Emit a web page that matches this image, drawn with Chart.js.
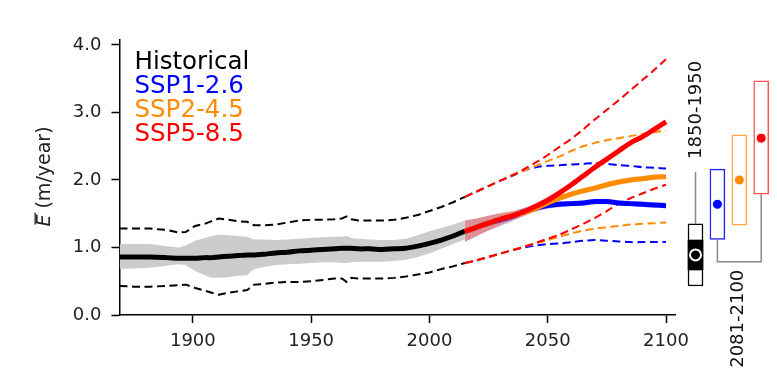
<!DOCTYPE html>
<html>
<head>
<meta charset="utf-8">
<script src="https://cdn.jsdelivr.net/npm/chart.js@4/dist/chart.umd.min.js"></script>
<style>
  html, body { margin: 0; padding: 0; background: #fff; }
  #wrap { position: relative; width: 777px; height: 371px; overflow: hidden; }
  #main { position: absolute; left: 0; top: 0; }
  #box { position: absolute; left: 680px; top: 0; }
</style>
</head>
<body>
<div id="wrap">
  <canvas id="main" width="777" height="371"></canvas>
  <canvas id="box" width="97" height="371"></canvas>
</div>
<script>
// ---- historical ensemble (m/year) ----
const histYears = [1869, 1875, 1882, 1889, 1894, 1897, 1901, 1905, 1908, 1911, 1915, 1919, 1923, 1925, 1926, 1930, 1935,
                   1940, 1945, 1950, 1955, 1960, 1963, 1965, 1967, 1970, 1975, 1980, 1985, 1990, 1995, 2000, 2005, 2010, 2015];
const histMean  = [0.86, 0.86, 0.86, 0.85, 0.84, 0.84, 0.84, 0.85, 0.85, 0.86, 0.87, 0.88, 0.89, 0.89, 0.89, 0.90, 0.92,
                   0.93, 0.95, 0.96, 0.97, 0.98, 0.99, 0.99, 0.99, 0.98, 0.98, 0.97, 0.98, 0.99, 1.02, 1.06, 1.11, 1.17, 1.24];
const histSdHi  = [1.05, 1.05, 1.05, 1.02, 1.00, 1.03, 1.10, 1.14, 1.17, 1.19, 1.18, 1.17, 1.16, 1.13, 1.12, 1.12, 1.11,
                   1.12, 1.13, 1.14, 1.15, 1.16, 1.16, 1.17, 1.14, 1.13, 1.12, 1.11, 1.11, 1.13, 1.18, 1.24, 1.29, 1.34, 1.40];
const histSdLo  = [0.68, 0.69, 0.70, 0.73, 0.75, 0.74, 0.65, 0.59, 0.55, 0.55, 0.56, 0.58, 0.59, 0.66, 0.68, 0.71, 0.74,
                   0.75, 0.76, 0.77, 0.78, 0.78, 0.77, 0.77, 0.78, 0.79, 0.79, 0.79, 0.80, 0.82, 0.86, 0.91, 0.98, 1.05, 1.12];
const histMax   = [1.28, 1.28, 1.28, 1.26, 1.22, 1.23, 1.32, 1.35, 1.39, 1.43, 1.41, 1.39, 1.38, 1.34, 1.33, 1.33, 1.34,
                   1.37, 1.40, 1.41, 1.41, 1.42, 1.43, 1.46, 1.42, 1.40, 1.40, 1.40, 1.41, 1.44, 1.48, 1.54, 1.60, 1.67, 1.75];
const histMin   = [0.43, 0.42, 0.42, 0.43, 0.44, 0.45, 0.40, 0.36, 0.33, 0.30, 0.33, 0.35, 0.37, 0.43, 0.45, 0.46, 0.48,
                   0.49, 0.49, 0.50, 0.52, 0.54, 0.54, 0.49, 0.55, 0.54, 0.54, 0.54, 0.55, 0.57, 0.60, 0.63, 0.68, 0.72, 0.77];

// ---- scenario projections (m/year) ----
const futYears   = [2015, 2020, 2025, 2030, 2035, 2040, 2045, 2050, 2055, 2060, 2065, 2070, 2075, 2080, 2085, 2090, 2095, 2100];
const ssp126Mean = [1.24, 1.30, 1.36, 1.41, 1.46, 1.53, 1.58, 1.62, 1.64, 1.65, 1.66, 1.68, 1.68, 1.66, 1.65, 1.64, 1.63, 1.62];
const ssp245Mean = [1.24, 1.30, 1.36, 1.42, 1.47, 1.52, 1.58, 1.66, 1.73, 1.79, 1.84, 1.88, 1.93, 1.97, 2.00, 2.02, 2.04, 2.05];
const ssp585Mean = [1.24, 1.30, 1.36, 1.42, 1.47, 1.53, 1.61, 1.70, 1.81, 1.93, 2.06, 2.19, 2.31, 2.43, 2.55, 2.64, 2.75, 2.86];
const sspSpread  = [0.16, 0.13, 0.11, 0.09, 0.07, 0.06, 0.05, 0.05, 0.045, 0.04, 0.04, 0.04, 0.04, 0.04, 0.04, 0.04, 0.04, 0.04];
const ssp126Max  = [1.75, 1.83, 1.91, 1.99, 2.06, 2.14, 2.19, 2.21, 2.22, 2.23, 2.24, 2.25, 2.24, 2.22, 2.21, 2.19, 2.18, 2.17];
const ssp126Min  = [0.77, 0.81, 0.86, 0.91, 0.96, 1.00, 1.03, 1.05, 1.06, 1.08, 1.10, 1.11, 1.10, 1.09, 1.08, 1.08, 1.08, 1.08];
const ssp245Max  = [1.75, 1.83, 1.91, 1.99, 2.07, 2.14, 2.21, 2.28, 2.35, 2.43, 2.50, 2.55, 2.59, 2.62, 2.65, 2.68, 2.71, 2.73];
const ssp245Min  = [0.77, 0.81, 0.86, 0.91, 0.96, 1.01, 1.06, 1.11, 1.16, 1.21, 1.25, 1.28, 1.30, 1.32, 1.34, 1.35, 1.36, 1.37];
const ssp585Max  = [1.75, 1.83, 1.91, 1.99, 2.07, 2.16, 2.26, 2.37, 2.49, 2.61, 2.75, 2.90, 3.04, 3.18, 3.33, 3.48, 3.63, 3.79];
const ssp585Min  = [0.77, 0.81, 0.86, 0.91, 0.96, 1.01, 1.07, 1.13, 1.19, 1.27, 1.35, 1.44, 1.54, 1.65, 1.73, 1.80, 1.87, 1.93];

// ---- period summaries (side panel) ----
const periodLabels = ['1850-1950', '2081-2100'];
const boxNames  = ['Historical', 'SSP1-2.6', 'SSP2-4.5', 'SSP5-8.5'];
const boxLow    = [0.43, 1.12, 1.33, 1.79];
const boxHigh   = [1.35, 2.16, 2.67, 3.47];
const boxMid    = [0.89, 1.64, 2.00, 2.62];
const histInner = [0.667, 1.111];
const histWhiskerTop = 2.12;
const futureLink = 0.79;

// ---- axes ----
const xTicks = [1900, 1950, 2000, 2050, 2100];
const yTicks = [0, 1, 2, 3, 4];

const FONT = '"DejaVu Sans"';
const colHist = '#000000', col126 = '#0000ff', col245 = '#ff8c00', col585 = '#ff0000';
const legendColors = [colHist, col126, col245, col585];

const pts = (xs, ys) => xs.map((x, i) => ({ x: x, y: ys[i] }));

const datasets = [];
function addLine(xs, ys, color, width, dash, order, tension) {
  datasets.push({
    data: pts(xs, ys), borderColor: color, backgroundColor: color, borderWidth: width,
    borderDash: dash || [], pointRadius: 0, fill: false, order: order,
    tension: tension || 0, borderCapStyle: 'butt', borderJoinStyle: 'round'
  });
}
function addBand(xs, lo, hi, color, order, tension) {
  datasets.push({ data: pts(xs, lo), borderWidth: 0, borderColor: 'rgba(0,0,0,0)', backgroundColor: color,
                  pointRadius: 0, fill: false, order: order, tension: tension || 0 });
  datasets.push({ data: pts(xs, hi), borderWidth: 0, borderColor: 'rgba(0,0,0,0)', backgroundColor: color,
                  pointRadius: 0, fill: '-1', order: order, tension: tension || 0 });
}
const minus = (a, s) => a.map((v, i) => v - s[i]);
const plus  = (a, s) => a.map((v, i) => v + s[i]);

// shaded spreads
addBand(histYears, histSdLo, histSdHi, 'rgb(204,204,204)', 100, 0);
addBand(futYears, minus(ssp126Mean, sspSpread), plus(ssp126Mean, sspSpread), 'rgba(40,40,255,0.25)', 92, 0.3);
addBand(futYears, minus(ssp245Mean, sspSpread), plus(ssp245Mean, sspSpread), 'rgba(255,140,0,0.25)', 91, 0.3);
addBand(futYears, minus(ssp585Mean, sspSpread), plus(ssp585Mean, sspSpread), 'rgba(255,0,0,0.22)', 90, 0.3);
// ensemble ranges (dashed)
const dash = [8, 4.5];
addLine(histYears, histMax, colHist, 2, dash, 80, 0);
addLine(histYears, histMin, colHist, 2, dash, 80, 0);
addLine(futYears, ssp126Max, col126, 2, dash, 72, 0.3);
addLine(futYears, ssp126Min, col126, 2, dash, 72, 0.3);
addLine(futYears, ssp245Max, col245, 2, dash, 71, 0.3);
addLine(futYears, ssp245Min, col245, 2, dash, 71, 0.3);
addLine(futYears, ssp585Max, col585, 2, dash, 70, 0.3);
addLine(futYears, ssp585Min, col585, 2, dash, 70, 0.3);
// ensemble means
addLine(histYears, histMean, colHist, 5, null, 60, 0.3);
addLine(futYears, ssp126Mean, col126, 5, null, 52, 0.3);
addLine(futYears, ssp245Mean, col245, 5, null, 51, 0.3);
addLine(futYears, ssp585Mean, col585, 5, null, 50, 0.3);

const textLegend = {
  id: 'textLegend',
  afterDraw(chart) {
    const { ctx, chartArea: a } = chart;
    ctx.save();
    ctx.font = '24.5px ' + FONT;
    ctx.textBaseline = 'middle';
    ctx.textAlign = 'left';
    boxNames.forEach((t, i) => {
      ctx.fillStyle = legendColors[i];
      ctx.fillText(t, a.left + 15, a.top + 23 + i * 24);
    });
    ctx.restore();
  }
};

const yTitle = {
  id: 'yTitle',
  afterDraw(chart) {
    const { ctx, chartArea: a } = chart;
    const f1 = 'italic 19px ' + FONT, f2 = '19px ' + FONT;
    ctx.save();
    ctx.translate(45, (a.top + a.bottom) / 2 - 1);
    ctx.rotate(-Math.PI / 2);
    ctx.fillStyle = '#222';
    ctx.textBaseline = 'middle';
    ctx.textAlign = 'left';
    ctx.font = f1; const wE = ctx.measureText('E').width;
    ctx.font = f2; const wR = ctx.measureText(' (m/year)').width;
    const x0 = -(wE + wR) / 2;
    ctx.font = f1; ctx.fillText('E', x0, 0);
    ctx.font = f2; ctx.fillText(' (m/year)', x0 + wE, 0);
    ctx.fillRect(x0 + 2, -10.5, wE, 1.3);
    ctx.restore();
  }
};

new Chart(document.getElementById('main'), {
  type: 'line',
  data: { datasets: datasets },
  options: {
    responsive: false,
    animation: false,
    layout: { autoPadding: false, padding: { left: 0, right: 102, top: 40, bottom: 0 } },
    plugins: { legend: { display: false }, tooltip: { enabled: false }, colors: { enabled: false } },
    scales: {
      x: {
        type: 'linear', min: 1869, max: 2103.8,
        afterFit(s) { s.height = 56; },
        afterBuildTicks(s) { s.ticks = xTicks.map(v => ({ value: v })); },
        grid: { display: true, drawOnChartArea: false, drawTicks: true, tickLength: 8, tickWidth: 1.5, tickColor: '#000' },
        border: { display: true, color: '#000', width: 1.5 },
        ticks: { font: { family: 'DejaVu Sans', size: 18 }, color: '#222', padding: 8, maxRotation: 0,
                 callback: v => String(v) }
      },
      y: {
        type: 'linear', min: 0, max: 4.074,
        afterFit(s) { s.width = 119.5; },
        afterBuildTicks(s) { s.ticks = yTicks.map(v => ({ value: v })); },
        grid: { display: true, drawOnChartArea: false, drawTicks: true, tickLength: 8, tickWidth: 1.5, tickColor: '#000' },
        border: { display: true, color: '#000', width: 1.5 },
        ticks: { font: { family: 'DejaVu Sans', size: 18 }, color: '#222', padding: 10,
                 callback: v => Number(v).toFixed(1) }
      }
    }
  },
  plugins: [textLegend, yTitle]
});

// ---- side panel: period summaries on the same value scale ----
const boxPos = [0, 1, 2, 3];
const boxEdge = ['#000000', '#2020ff', 'rgba(255,140,0,0.75)', 'rgba(255,0,0,0.68)'];
const grey = '#8a8a8a';

const periodText = {
  id: 'periodText',
  afterDraw(chart) {
    const { ctx } = chart;
    const xs = chart.scales.x, ys = chart.scales.y;
    ctx.save();
    ctx.font = '18px ' + FONT;
    ctx.fillStyle = '#111';
    ctx.textBaseline = 'middle';
    ctx.save();
    ctx.translate(xs.getPixelForValue(boxPos[0]) + 1, ys.getPixelForValue(histWhiskerTop) - 13);
    ctx.rotate(-Math.PI / 2);
    ctx.textAlign = 'left';
    ctx.fillText(periodLabels[0], 0, 0);
    ctx.restore();
    ctx.save();
    ctx.translate((xs.getPixelForValue(boxPos[1]) + xs.getPixelForValue(boxPos[3])) / 2 - 1,
                  ys.getPixelForValue(futureLink) + 8);
    ctx.rotate(-Math.PI / 2);
    ctx.textAlign = 'right';
    ctx.fillText(periodLabels[1], 0, 0);
    ctx.restore();
    ctx.restore();
  }
};

new Chart(document.getElementById('box'), {
  type: 'bar',
  data: {
    datasets: [
      { type: 'line', data: pts(boxPos, boxMid), showLine: false, pointRadius: [5.5, 5, 5, 5],
        pointBackgroundColor: legendColors, pointBorderColor: '#fff', pointBorderWidth: [2, 1, 1, 1],
        borderColor: '#fff', backgroundColor: legendColors, order: 0 },
      { type: 'bar', data: [{ x: boxPos[0], y: histInner }], backgroundColor: '#000', borderColor: '#000',
        borderWidth: 0, barThickness: 15, grouped: false, order: 1 },
      { type: 'bar', data: boxPos.map((x, i) => ({ x: x, y: [boxLow[i], boxHigh[i]] })),
        backgroundColor: '#fff', borderColor: boxEdge, borderWidth: 1.5, borderSkipped: false,
        barThickness: 15, grouped: false, order: 2 },
      { type: 'line', data: [{ x: boxPos[0], y: boxHigh[0] }, { x: boxPos[0], y: histWhiskerTop }],
        borderColor: grey, backgroundColor: grey, borderWidth: 1.5, pointRadius: 0, fill: false, order: 3 },
      { type: 'line', data: [{ x: boxPos[1], y: boxLow[1] }, { x: boxPos[1], y: futureLink },
                             { x: boxPos[3], y: futureLink }, { x: boxPos[3], y: boxLow[3] }],
        borderColor: grey, backgroundColor: grey, borderWidth: 1.5, pointRadius: 0, fill: false, order: 3 }
    ]
  },
  options: {
    responsive: false,
    animation: false,
    layout: { autoPadding: false, padding: { left: 0, right: 0, top: 40, bottom: 56 } },
    plugins: { legend: { display: false }, tooltip: { enabled: false }, colors: { enabled: false } },
    scales: {
      x: { type: 'linear', min: -0.708, max: 3.72, display: false, offset: false },
      y: { type: 'linear', min: 0, max: 4.074, display: false }
    }
  },
  plugins: [periodText]
});
</script>
</body>
</html>
